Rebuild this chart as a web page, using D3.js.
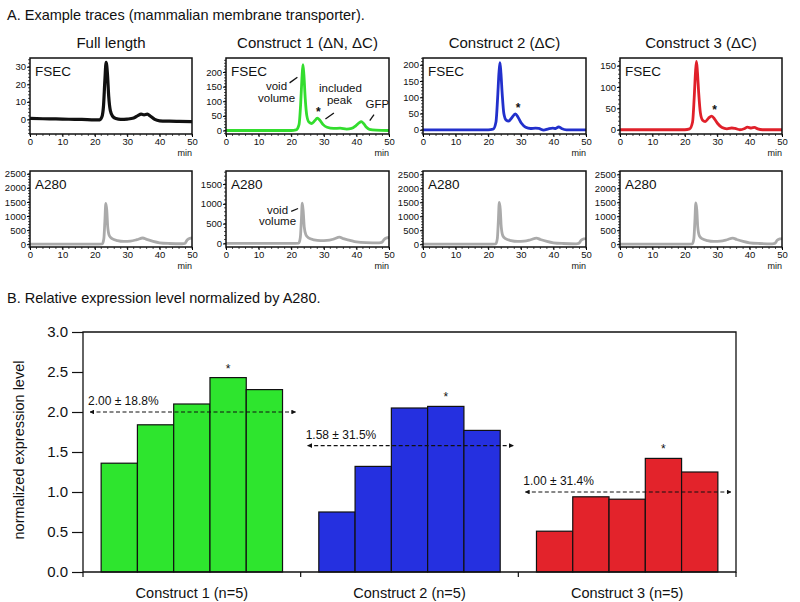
<!DOCTYPE html>
<html><head><meta charset="utf-8">
<script src="https://cdn.jsdelivr.net/npm/d3@7"></script>
<style>body{margin:0;background:#fff;} text{font-family:"Liberation Sans",Arial,sans-serif;fill:#111;}</style>
</head><body><svg id="c" width="800" height="602"></svg>
<script>
// ---------- DATA ----------
const panelTitles = ["Full length", "Construct 1 (ΔN, ΔC)", "Construct 2 (ΔC)", "Construct 3 (ΔC)"];
const traceColors = ["#111111", "#33dd2e", "#2230cc", "#e0202a"];
const a280Color = "#aaaaaa";
const timeTicks = [0, 10, 20, 30, 40, 50];

const fsecFull = [[0,0.6],[4,0.4],[8,0.3],[12,0.1],[16,0],[20,-0.3],[21.5,-0.2],[22.2,1.5],[22.7,8],[23.1,22],[23.5,32.5],[23.9,26],[24.3,13],[24.8,5],[25.5,1.8],[26.5,0.5],[28,0],[30,0.2],[32,0.8],[33.3,2.2],[34.3,3],[35.2,2.6],[36.2,3],[37.2,1.8],[38.5,0],[40,-0.8],[43,-1],[46,-1.1],[50,-1.2]];
const fsecC1 = [[0,0],[10,0],[20,0],[21.5,2],[22.4,20],[22.9,90],[23.3,180],[23.6,225],[23.9,190],[24.3,110],[24.8,50],[25.5,28],[26.3,24],[27.2,33],[28,42],[28.8,35],[29.8,20],[31,11],[33,7],[35,8],[37,5],[38.5,7],[39.8,16],[40.8,26],[41.5,30],[42.2,24],[43,12],[44,4],[46,1],[50,0]];
const fsecC2 = [[0,0],[10,0],[20,0],[21.5,2],[22.4,25],[22.9,100],[23.3,175],[23.6,207],[23.9,175],[24.3,110],[24.8,50],[25.5,30],[26.3,27],[27.3,38],[28.3,49],[29.2,38],[30.2,20],[31.5,8],[33,4],[34.5,5],[35.5,4],[37,-1],[38.5,3],[39.8,5],[40.7,4],[41.6,9],[42.5,4],[44,0],[50,0]];
const fsecC3 = [[0,0],[10,0],[20,0],[21.5,2],[22.4,18],[22.9,75],[23.3,135],[23.6,160],[23.9,135],[24.3,85],[24.8,40],[25.5,22],[26.3,19],[27.3,27],[28.3,32],[29.2,25],[30.2,14],[31.5,5],[33,2],[34.5,4],[35.5,3],[37,0],[38.5,3],[39.3,6],[40.5,4],[41.5,5.5],[42.5,2],[44,0],[50,0]];
const fsecDomains = [[-8.3,35],[-12,248],[-13,221],[-10,168]];
const fsecTicks = [[0,10,20,30],[0,50,100,150,200],[0,50,100,150,200],[0,50,100,150]];

const a280Full = [[0,0],[10,0],[20,0],[22.3,10],[22.8,200],[23.1,800],[23.4,1450],[23.7,1200],[24,600],[24.5,300],[25.3,200],[27,130],[29,100],[31,110],[33,160],[34.8,220],[36,170],[38,100],[40,50],[43,25],[47,15],[47.8,30],[48.5,150],[49.3,210],[50,220]];
const a280C1 = [[0,0],[10,0],[20,0],[22.3,10],[22.8,150],[23.1,550],[23.4,1020],[23.7,800],[24,420],[24.5,220],[25.3,140],[27,90],[29,70],[31,75],[33,110],[34.8,160],[36,120],[38,80],[40,40],[43,20],[47,15],[47.8,25],[48.5,100],[49.3,140],[50,150]];
const a280C2 = [[0,0],[10,0],[20,0],[22.3,10],[22.8,200],[23.1,800],[23.4,1500],[23.7,1250],[24,620],[24.5,300],[25.3,200],[27,130],[29,100],[31,110],[33,160],[34.8,220],[36,170],[38,100],[40,50],[43,25],[47,15],[47.8,30],[48.5,140],[49.3,190],[50,200]];
const a280C3 = [[0,0],[10,0],[20,0],[22.3,10],[22.8,200],[23.1,800],[23.4,1480],[23.7,1230],[24,610],[24.5,300],[25.3,200],[27,130],[29,100],[31,110],[33,160],[34.8,220],[36,170],[38,100],[40,50],[43,25],[47,15],[47.8,30],[48.5,140],[49.3,190],[50,200]];
const a280Domains = [[-100,2600],[-90,1830],[-100,2620],[-100,2620]];
const a280Ticks = [[0,500,1000,1500,2000,2500],[0,500,1000,1500],[0,500,1000,1500,2000,2500],[0,500,1000,1500,2000,2500]];

// star positions (time, value) over the included peak
const traceStars = [null, [28.3,42], [29.2,48], [29.2,32]];

// bar chart
const categories = ["Construct 1 (n=5)", "Construct 2 (n=5)", "Construct 3 (n=5)"];
const barColors = ["#2ee52e", "#2530e0", "#e3232b"];
const construct1 = [1.36, 1.84, 2.10, 2.43, 2.28];
const construct2 = [0.75, 1.32, 2.05, 2.07, 1.77];
const construct3 = [0.51, 0.94, 0.91, 1.42, 1.25];
const means = [2.00, 1.58, 1.00];
const meanLabels = ["2.00 ± 18.8%", "1.58 ± 31.5%", "1.00 ± 31.4%"];
const starBar = [3, 3, 3];
const yTicks = [0, 0.5, 1.0, 1.5, 2.0, 2.5, 3.0];

// ---------- DRAW ----------
const svg = d3.select("#c");
const defs = svg.append("defs");
defs.append("marker").attr("id","arr").attr("viewBox","0 0 10 10").attr("refX",9).attr("refY",5)
  .attr("markerWidth",4).attr("markerHeight",4).attr("orient","auto-start-reverse")
  .append("path").attr("d","M0,0L10,5L0,10z").attr("fill","#111");

svg.append("text").attr("x",7).attr("y",20).attr("font-size",14.5).text("A. Example traces (mammalian membrane transporter).");
svg.append("text").attr("x",7).attr("y",303).attr("font-size",14.5).text("B. Relative expression level normalized by A280.");

const cols = [[30,192],[226,389],[423,586],[620,782]];
const fsecY = [58,134], a280Y = [171,247];
const fsecData = [fsecFull, fsecC1, fsecC2, fsecC3];
const a280Data = [a280Full, a280C1, a280C2, a280C3];

function panel(i, yr, data, dom, ticks, color, label, minorStep, lw) {
  const g = svg.append("g");
  const x = d3.scaleLinear().domain([0,50]).range(cols[i]);
  const y = d3.scaleLinear().domain(dom).range([yr[1], yr[0]]);
  const cid = "clip" + label + i;
  defs.append("clipPath").attr("id", cid).append("rect")
    .attr("x", cols[i][0]).attr("y", yr[0]).attr("width", cols[i][1]-cols[i][0]).attr("height", yr[1]-yr[0]);
  // minor ticks
  const xm = d3.range(0, 50.01, 2);
  g.selectAll(".xm").data(xm).join("line").attr("x1", d=>x(d)).attr("x2", d=>x(d))
    .attr("y1", yr[1]).attr("y2", yr[1]+2).attr("stroke","#222").attr("stroke-width",0.8);
  const ym = d3.range(Math.ceil(dom[0]/minorStep)*minorStep, dom[1], minorStep);
  g.selectAll(".ym").data(ym).join("line").attr("x1", cols[i][0]-2).attr("x2", cols[i][0])
    .attr("y1", d=>y(d)).attr("y2", d=>y(d)).attr("stroke","#222").attr("stroke-width",0.8);
  // axes
  const ax = g.append("g").attr("transform", `translate(0,${yr[1]})`)
    .call(d3.axisBottom(x).tickValues(timeTicks).tickSize(3).tickPadding(1));
  ax.select(".domain").remove();
  ax.selectAll("text").attr("font-size",9.5).attr("font-family","Liberation Sans, Arial, sans-serif").attr("fill","#222");
  const ay = g.append("g").attr("transform", `translate(${cols[i][0]},0)`)
    .call(d3.axisLeft(y).tickValues(ticks).tickFormat(d3.format("d")).tickSize(3).tickPadding(1));
  ay.select(".domain").remove();
  ay.selectAll("text").attr("font-size",9.5).attr("font-family","Liberation Sans, Arial, sans-serif").attr("fill","#222");
  g.append("text").attr("x", cols[i][1]).attr("y", yr[1]+22).attr("text-anchor","end").attr("font-size",9).attr("fill","#222").text("min");
  // trace
  g.append("path").datum(data).attr("clip-path", `url(#${cid})`)
    .attr("d", d3.line().x(d=>x(d[0])).y(d=>y(d[1])).curve(d3.curveMonotoneX))
    .attr("fill","none").attr("stroke", color).attr("stroke-width", lw).attr("stroke-linejoin","round");
  // frame
  g.append("rect").attr("x", cols[i][0]).attr("y", yr[0]).attr("width", cols[i][1]-cols[i][0]).attr("height", yr[1]-yr[0])
    .attr("fill","none").attr("stroke","#111").attr("stroke-width",1.5);
  g.append("text").attr("x", cols[i][0]+5).attr("y", yr[0]+18).attr("font-size",13.5).text(label);
  return {x, y, g};
}

for (let i = 0; i < 4; i++) {
  svg.append("text").attr("x", (cols[i][0]+cols[i][1])/2).attr("y", 48).attr("text-anchor","middle")
    .attr("font-size",15).text(panelTitles[i]);
  const minorF = i === 0 ? 2 : 10;
  const p = panel(i, fsecY, fsecData[i], fsecDomains[i], fsecTicks[i], traceColors[i], "FSEC", minorF, i===0?3.2:2.8);
  if (traceStars[i]) {
    p.g.append("text").attr("x", p.x(traceStars[i][0])).attr("y", p.y(traceStars[i][1]) - 2)
      .attr("text-anchor","middle").attr("font-size",12).attr("font-weight","bold").text("*");
  }
  const q = panel(i, a280Y, a280Data[i], a280Domains[i], a280Ticks[i], a280Color, "A280", 100, 2.8);
  if (i === 1) {
    // FSEC annotations
    const ann = [["void",15.5,154],["volume",15.5,112],["included",35.1,146],["peak",34.8,105],["GFP",46.4,90]];
    ann.forEach(a => p.g.append("text").attr("x", p.x(a[1])).attr("y", p.y(a[2])).attr("dy","0.35em")
      .attr("text-anchor","middle").attr("font-size",11.5).text(a[0]));
    const leaders = [[19.5,163,21.9,182],[30.5,39,33.1,60],[44.1,34,45.4,54]];
    leaders.forEach(l => p.g.append("line").attr("x1",p.x(l[0])).attr("y1",p.y(l[1])).attr("x2",p.x(l[2])).attr("y2",p.y(l[3]))
      .attr("stroke","#111").attr("stroke-width",1.3));
    const ann2 = [["void",15.8,850],["volume",15.8,557]];
    ann2.forEach(a => q.g.append("text").attr("x", q.x(a[1])).attr("y", q.y(a[2])).attr("dy","0.35em")
      .attr("text-anchor","middle").attr("font-size",11.5).text(a[0]));
    q.g.append("line").attr("x1",q.x(20.0)).attr("y1",q.y(808)).attr("x2",q.x(22.1)).attr("y2",q.y(883))
      .attr("stroke","#111").attr("stroke-width",1.3);
  }
}

// ---------- BAR CHART ----------
const L = 83, R = 736, T = 332, B = 572;
const x0 = d3.scaleBand().domain(categories).range([L, R]).padding(0);
const x1 = d3.scaleBand().domain(d3.range(5)).range([0, x0.bandwidth()]).paddingInner(0).paddingOuter(0.5);
const y = d3.scaleLinear().domain([0, 3]).range([B, T]);
const groups = [construct1, construct2, construct3];

const bg = svg.append("g");
groups.forEach((vals, gi) => {
  const gx = x0(categories[gi]);
  bg.selectAll(null).data(vals).join("rect")
    .attr("x", (d,i) => gx + x1(i)).attr("y", d => y(d))
    .attr("width", x1.bandwidth()).attr("height", d => B - y(d))
    .attr("fill", barColors[gi]).attr("stroke","#111").attr("stroke-width",1.2);
  const si = starBar[gi];
  bg.append("text").attr("x", gx + x1(si) + x1.bandwidth()/2).attr("y", y(vals[si]) - 5)
    .attr("text-anchor","middle").attr("font-size",12).text("*");
  const my = y(means[gi]);
  bg.append("line").attr("x1", gx + 7).attr("x2", gx + x0.bandwidth() - 5).attr("y1", my).attr("y2", my)
    .attr("stroke","#111").attr("stroke-width",1.2).attr("stroke-dasharray","4,2.5")
    .attr("marker-start","url(#arr)").attr("marker-end","url(#arr)");
  bg.append("text").attr("x", gx + 5).attr("y", my - 7).attr("font-size",12).text(meanLabels[gi]);
  bg.append("text").attr("x", gx + x0.bandwidth()/2).attr("y", B + 26).attr("text-anchor","middle")
    .attr("font-size",14.5).text(categories[gi]);
});

// axes
const yAx = svg.append("g").attr("transform", `translate(${L},0)`)
  .call(d3.axisLeft(y).tickValues(yTicks).tickFormat(d3.format(".1f")).tickSize(11).tickPadding(4));
yAx.select(".domain").remove();
yAx.selectAll("line").attr("stroke","#111").attr("stroke-width",1.2);
yAx.selectAll("text").attr("font-size",15).attr("font-family","Liberation Sans, Arial, sans-serif").attr("fill","#111");

const bx = [L, ...categories.map(c => x0(c) + x0.bandwidth())];
svg.selectAll(null).data(bx).join("line").attr("x1", d=>d).attr("x2", d=>d).attr("y1", B).attr("y2", B+5)
  .attr("stroke","#111").attr("stroke-width",1.2);
svg.append("path").attr("d", `M${L},${B}V${T}H${R}V${B}H${L}`).attr("fill","none").attr("stroke","#111").attr("stroke-width",1.3);

svg.append("text").attr("transform", `translate(24,${(T+B)/2 - 2}) rotate(-90)`).attr("text-anchor","middle")
  .attr("font-size",14.5).text("normalized expression level");
</script>
</body></html>
